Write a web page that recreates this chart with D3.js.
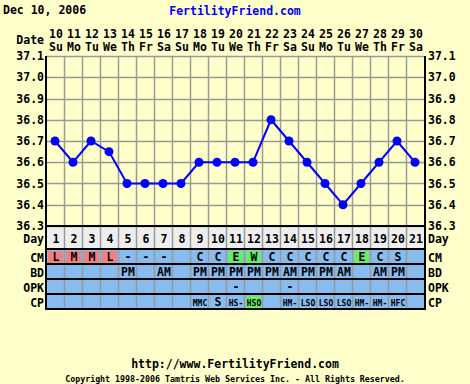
<!DOCTYPE html>
<html>
<head>
<meta charset="utf-8">
<script src="https://cdn.jsdelivr.net/npm/d3@7"></script>
<style>
  body { margin: 0; background: #ffffcc; }
  text { font-family: "DejaVu Sans Mono", monospace; font-weight: bold; }
</style>
</head>
<body>
<div id="chart"></div>
<script>
// chart values
var dates = [10, 11, 12, 13, 14, 15, 16, 17, 18, 19, 20, 21, 22, 23, 24, 25, 26, 27, 28, 29, 30];
var weekdays = ["Su", "Mo", "Tu", "We", "Th", "Fr", "Sa", "Su", "Mo", "Tu", "We", "Th", "Fr", "Sa", "Su", "Mo", "Tu", "We", "Th", "Fr", "Sa"];
var cycleDays = [1, 2, 3, 4, 5, 6, 7, 8, 9, 10, 11, 12, 13, 14, 15, 16, 17, 18, 19, 20, 21];
var temps = [36.7, 36.6, 36.7, 36.65, 36.5, 36.5, 36.5, 36.5, 36.6, 36.6, 36.6, 36.6, 36.8, 36.7, 36.6, 36.5, 36.4, 36.5, 36.6, 36.7, 36.6];
var cm = ["L", "M", "M", "L", "-", "-", "-", "", "C", "C", "E", "W", "C", "C", "C", "C", "C", "E", "C", "S", ""];
var bd = ["", "", "", "", "PM", "", "AM", "", "PM", "PM", "PM", "PM", "PM", "AM", "PM", "PM", "AM", "", "AM", "PM", ""];
var opk = ["", "", "", "", "", "", "", "", "", "", "-", "", "", "-", "", "", "", "", "", "", ""];
var cp = ["", "", "", "", "", "", "", "", "MMC", "S", "HS-", "HSO", "", "HM-", "LSO", "LSO", "LSO", "HM-", "HM-", "HFC", ""];
var yTicks = [36.3, 36.4, 36.5, 36.6, 36.7, 36.8, 36.9, 37.0, 37.1];

var svgWidth = 470;
var svgHeight = 384;

var svg = d3.select("#chart")
  .append("svg")
  .attr("width", svgWidth)
  .attr("height", svgHeight);

svg.append("rect")
  .attr("width", svgWidth)
  .attr("height", svgHeight)
  .attr("fill", "#ffffcc");

var plotLeft = 46, plotRight = 424, plotTop = 56, plotBottom = 226;

var xScale = d3.scaleBand()
  .domain(d3.range(dates.length))
  .range([plotLeft, plotRight]);

var yScale = d3.scaleLinear()
  .domain([36.3, 37.1])
  .range([plotBottom, plotTop]);

// rows below the chart
var rows = [
  { name: "Day", y0: 226, y1: 249, vals: cycleDays },
  { name: "CM", y0: 249, y1: 264, vals: cm },
  { name: "BD", y0: 264, y1: 279, vals: bd },
  { name: "OPK", y0: 279, y1: 294, vals: opk },
  { name: "CP", y0: 294, y1: 309, vals: cp }
];

function cellColor(row, v) {
  if (row.name == "Day") return "#eeeeee";
  if (row.name == "CM") {
    if (v == "L" || v == "M") return "#f08080";
    if (v == "E" || v == "W") return "#66ee66";
  }
  if (row.name == "CP" && v == "HSO") return "#66ee66";
  return "#88bbee";
}

rows.forEach(function(row) {
  svg.selectAll(null)
    .data(row.vals)
    .enter()
    .append("rect")
    .attr("x", (d, i) => xScale(i))
    .attr("y", row.y0)
    .attr("width", xScale.bandwidth())
    .attr("height", row.y1 - row.y0)
    .attr("fill", "#88bbee");

  // coloured chips
  svg.selectAll(null)
    .data(row.vals)
    .enter()
    .append("rect")
    .attr("x", (d, i) => xScale(i) + (row.name == "Day" ? 0 : 2))
    .attr("y", row.y0 + (row.name == "Day" ? 0 : 2))
    .attr("width", xScale.bandwidth() - (row.name == "Day" ? 0 : 3))
    .attr("height", row.y1 - row.y0 - (row.name == "Day" ? 0 : 3))
    .attr("fill", d => cellColor(row, d));

  svg.selectAll(null)
    .data(row.vals)
    .enter()
    .append("text")
    .attr("x", (d, i) => xScale(i) + xScale.bandwidth() / 2 + 1)
    .attr("y", row.name == "Day" ? row.y0 + 17 : row.y1 - 3)
    .attr("text-anchor", "middle")
    .attr("font-size", d => (row.name == "CP" && d != "S") ? "8px" : "11.5px")
    .attr("fill", "#000")
    .text(d => d);

  svg.append("text")
    .attr("x", 44)
    .attr("y", row.name == "Day" ? row.y0 + 17 : row.y1 - 2)
    .attr("text-anchor", "end")
    .attr("font-size", "11.5px")
    .text(row.name);

  svg.append("text")
    .attr("x", 428)
    .attr("y", row.name == "Day" ? row.y0 + 17 : row.y1 - 2)
    .attr("font-size", "11.5px")
    .text(row.name);
});

// horizontal grid
svg.selectAll(".hgrid")
  .data(yTicks)
  .enter()
  .append("line")
  .attr("class", "hgrid")
  .attr("x1", plotLeft)
  .attr("x2", plotRight)
  .attr("y1", d => Math.round(yScale(d)) + 0.5)
  .attr("y2", d => Math.round(yScale(d)) + 0.5)
  .attr("stroke", "#999999")
  .attr("stroke-width", 1.5);

// vertical grid through plot and rows
svg.selectAll(".vgrid")
  .data(d3.range(1, dates.length))
  .enter()
  .append("line")
  .attr("class", "vgrid")
  .attr("x1", i => xScale(i) + 0.5)
  .attr("x2", i => xScale(i) + 0.5)
  .attr("y1", plotTop)
  .attr("y2", 309)
  .attr("stroke", "#999999")
  .attr("stroke-width", 1.5);

// row separators
svg.selectAll(".sep")
  .data([226, 249, 264, 279, 294, 309])
  .enter()
  .append("line")
  .attr("class", "sep")
  .attr("x1", plotLeft)
  .attr("x2", plotRight + 1)
  .attr("y1", d => d)
  .attr("y2", d => d)
  .attr("stroke", "#000")
  .attr("stroke-width", 2);

svg.append("line")
  .attr("x1", plotLeft).attr("x2", plotLeft)
  .attr("y1", plotTop).attr("y2", 310)
  .attr("stroke", "#000").attr("stroke-width", 2);
svg.append("line")
  .attr("x1", plotRight + 1).attr("x2", plotRight + 1)
  .attr("y1", plotTop).attr("y2", 310)
  .attr("stroke", "#000").attr("stroke-width", 2);

// y axis labels both sides
[[44, "end"], [428, "start"]].forEach(function(side) {
  svg.selectAll(null)
    .data(yTicks)
    .enter()
    .append("text")
    .attr("x", side[0])
    .attr("y", d => yScale(d) + 4)
    .attr("text-anchor", side[1])
    .attr("font-size", "11.5px")
    .text(d => d.toFixed(1));
});

// date header
svg.selectAll(".date")
  .data(dates)
  .enter()
  .append("text")
  .attr("x", (d, i) => xScale(i) + xScale.bandwidth() / 2 + 1)
  .attr("y", 38)
  .attr("text-anchor", "middle")
  .attr("font-size", "11.5px")
  .text(d => d);

svg.selectAll(".wday")
  .data(weekdays)
  .enter()
  .append("text")
  .attr("x", (d, i) => xScale(i) + xScale.bandwidth() / 2 + 1)
  .attr("y", 51)
  .attr("text-anchor", "middle")
  .attr("font-size", "11.5px")
  .text(d => d);

svg.append("text")
  .attr("x", 44).attr("y", 44)
  .attr("text-anchor", "end")
  .attr("font-size", "11.5px")
  .text("Date");

svg.append("text")
  .attr("x", 3).attr("y", 14)
  .attr("font-size", "11.5px")
  .text("Dec 10, 2006");

svg.append("text")
  .attr("x", 235).attr("y", 15)
  .attr("text-anchor", "middle")
  .attr("font-size", "11.5px")
  .attr("fill", "#0000ff")
  .text("FertilityFriend.com");

// temperature line
var line = d3.line()
  .x((d, i) => xScale(i) + xScale.bandwidth() / 2)
  .y(d => yScale(d));

svg.append("path")
  .datum(temps)
  .attr("d", line)
  .attr("fill", "none")
  .attr("stroke", "#0000ff")
  .attr("stroke-width", 2);

svg.selectAll(".dot")
  .data(temps)
  .enter()
  .append("circle")
  .attr("class", "dot")
  .attr("cx", (d, i) => xScale(i) + xScale.bandwidth() / 2)
  .attr("cy", d => yScale(d))
  .attr("r", 4.5)
  .attr("fill", "#0000ff");

// footer
svg.append("text")
  .attr("x", 235).attr("y", 368)
  .attr("text-anchor", "middle")
  .attr("font-size", "11.5px")
  .text("http://www.FertilityFriend.com");

svg.append("text")
  .attr("x", 235).attr("y", 382)
  .attr("text-anchor", "middle")
  .attr("font-size", "8.3px")
  .attr("font-weight", "normal")
  .text("Copyright 1998-2006 Tamtris Web Services Inc. - All Rights Reserved.");
</script>
</body>
</html>
